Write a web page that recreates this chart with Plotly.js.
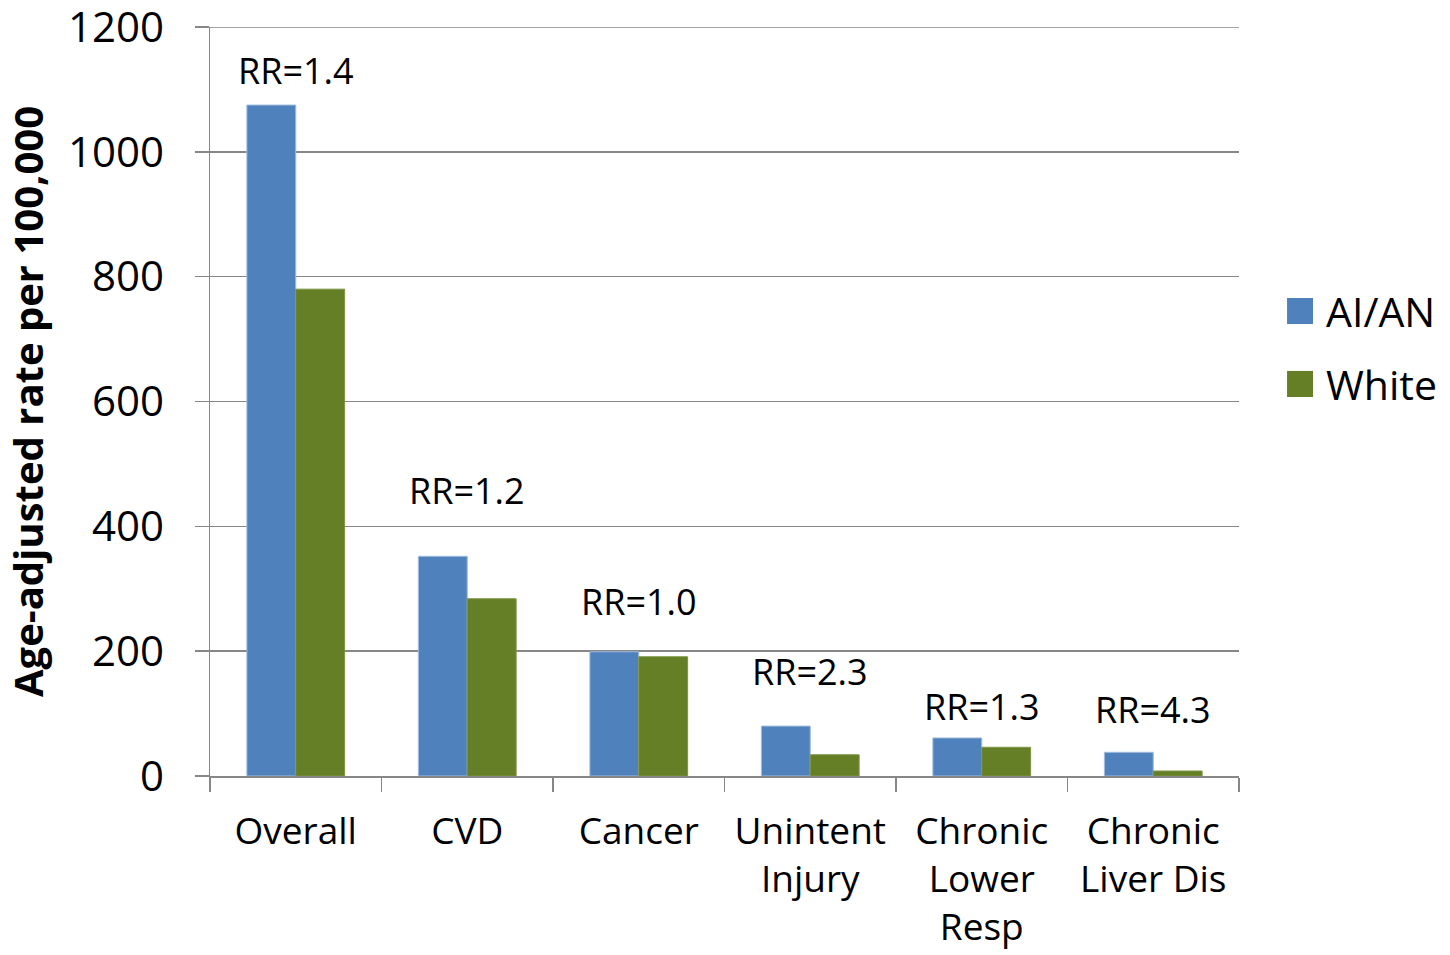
<!DOCTYPE html>
<html>
<head>
<meta charset="utf-8">
<script src="https://cdn.plot.ly/plotly-3.0.1.min.js"></script>
<style>
  html, body { margin: 0; padding: 0; background: #ffffff; }
  #chart { width: 1450px; height: 955px; }
</style>
</head>
<body>
<div id="chart"></div>
<script>
const categories = ["Overall", "CVD", "Cancer", "Unintent<br>Injury", "Chronic<br>Lower<br>Resp", "Chronic<br>Liver Dis"];
const aianRates = [1075, 352, 199, 80, 61, 38];
const whiteRates = [780, 284, 191, 34, 46, 8];
const rrLabels = ["RR=1.4", "RR=1.2", "RR=1.0", "RR=2.3", "RR=1.3", "RR=4.3"];
const rrLabelLevel = [1131, 457, 280, 167, 112, 107];
const seriesNames = ["AI/AN", "White"];
const yTickValues = [0, 200, 400, 600, 800, 1000, 1200];

const FONT = "'Open Sans', 'Noto Sans', sans-serif";
const BLUE = "#4F81BD";
const GREEN = "#647F25";
const GRID = "#878787";

const traces = [
  {
    type: "bar", name: seriesNames[0], x: categories, y: aianRates,
    marker: { color: BLUE, line: { color: "#a3bddd", width: 1 } },
    showlegend: false, hoverinfo: "skip"
  },
  {
    type: "bar", name: seriesNames[1], x: categories, y: whiteRates,
    marker: { color: GREEN, line: { color: "#7e9444", width: 1 } },
    showlegend: false, hoverinfo: "skip"
  }
];

const annotations = categories.map((c, i) => ({
  x: c, y: rrLabelLevel[i], xref: "x", yref: "y",
  text: rrLabels[i], showarrow: false, xanchor: "center", yanchor: "middle",
  font: { family: FONT, size: 36, color: "#000000" }
}));

// manual legend (large square swatches like the original)
const legendColors = [BLUE, GREEN];
const legendY = [0.6208, 0.5234];
const shapes = [];
seriesNames.forEach((n, i) => {
  shapes.push({
    type: "rect", xref: "paper", yref: "paper",
    x0: 1.0467, x1: 1.0719, y0: legendY[i] - 0.0174, y1: legendY[i] + 0.0174,
    fillcolor: legendColors[i], line: { width: 0 }
  });
  annotations.push({
    xref: "paper", yref: "paper", x: 1.0825, y: legendY[i],
    text: n, showarrow: false, xanchor: "left", yanchor: "middle",
    font: { family: FONT, size: 41, color: "#000000" }
  });
});

const layout = {
  width: 1450, height: 955,
  margin: { l: 210, r: 211, t: 27, b: 179, pad: 0 },
  paper_bgcolor: "#ffffff", plot_bgcolor: "#ffffff",
  font: { family: FONT, color: "#000000" },
  bargap: 0.43, bargroupgap: 0,
  barmode: "group",
  showlegend: false,
  xaxis: {
    type: "category",
    showline: true, linecolor: GRID, linewidth: 1.5,
    ticks: "outside", tickson: "boundaries", ticklen: 14, tickwidth: 1.5, tickcolor: GRID,
    ticklabelstandoff: 22,
    tickfont: { family: FONT, size: 37, color: "#000000" },
    showgrid: false, zeroline: false,
    automargin: false
  },
  yaxis: {
    range: [0, 1200], tickvals: yTickValues, ticktext: yTickValues.map(String),
    showline: true, linecolor: GRID, linewidth: 1.5,
    ticks: "outside", ticklen: 14, tickwidth: 1.5, tickcolor: GRID,
    ticklabelstandoff: 22,
    ticklabeloverflow: "allow",
    showgrid: true, gridcolor: GRID, gridwidth: 1.5,
    zeroline: false,
    tickfont: { family: FONT, size: 42, color: "#000000" },
    title: { text: "Age-adjusted rate per 100,000", standoff: 14,
             font: { family: FONT, size: 40, color: "#000000", weight: "bold" } },
    automargin: false
  },
  annotations: annotations,
  shapes: shapes.concat([{
    // top gridline at 1200 (Plotly drops gridlines lying on the plot edge)
    type: "line", xref: "paper", yref: "y", x0: 0, x1: 1, y0: 1200, y1: 1200,
    line: { color: GRID, width: 1.5 }
  }])
};

Plotly.newPlot("chart", traces, layout, { staticPlot: true, displayModeBar: false });
</script>
</body>
</html>
